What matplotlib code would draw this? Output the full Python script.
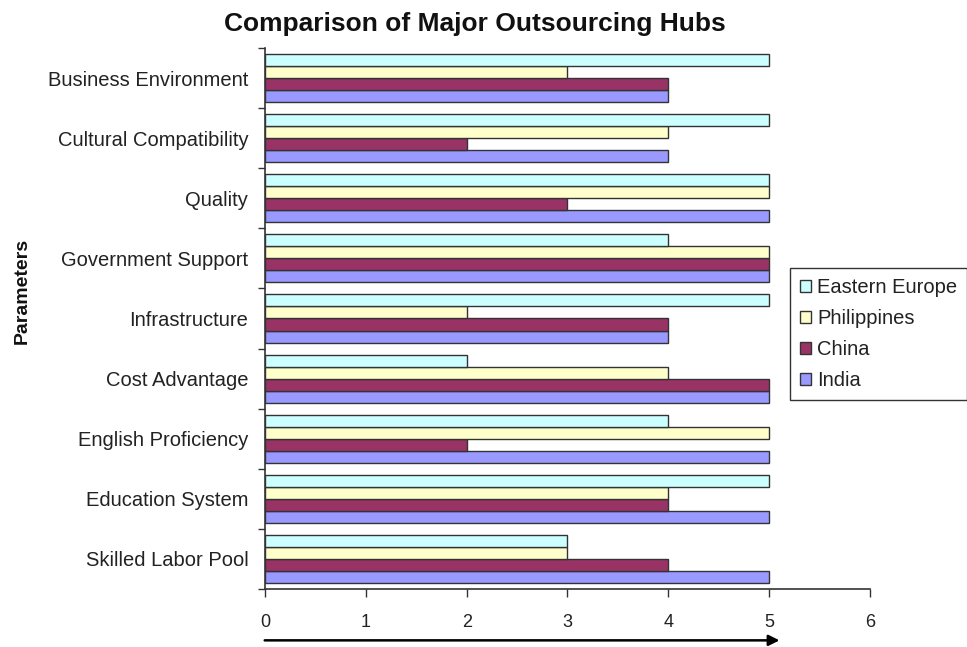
import matplotlib
matplotlib.use("Agg")
import matplotlib.pyplot as plt
import numpy as np
from matplotlib.ticker import FixedLocator

categories = ["Skilled Labor Pool", "Education System", "English Proficiency",
              "Cost Advantage", "Infrastructure", "Government Support",
              "Quality", "Cultural Compatibility", "Business Environment"]
india = [5, 5, 5, 5, 4, 5, 5, 4, 4]
china = [4, 4, 2, 5, 4, 5, 3, 2, 4]
philippines = [3, 4, 5, 4, 2, 5, 5, 4, 3]
eastern_europe = [3, 5, 4, 2, 5, 4, 5, 5, 5]
series_names = ["India", "China", "Philippines", "Eastern Europe"]
series_colors = ["#9999FF", "#993366", "#FFFFCC", "#CCFFFF"]
x_ticks = [0, 1, 2, 3, 4, 5, 6]

plt.rcParams['font.family'] = ['Liberation Sans', 'DejaVu Sans']

fig = plt.figure(figsize=(9.67, 6.47), dpi=100)
ax = fig.add_axes([0.274, 0.0897, 0.6257, 0.8361])

y = np.arange(len(categories))
h = 0.2
series = [india, china, philippines, eastern_europe]
handles = []
for i, (vals, name, col) in enumerate(zip(series, series_names, series_colors)):
    b = ax.barh(y + (i - 1.5) * h, vals, height=h, color=col, edgecolor="#333333",
                linewidth=1.0, label=name)
    handles.append(b)

ax.set_xlim(0, 6)
ax.set_ylim(-0.5, len(categories) - 0.5)
ax.set_xticks(x_ticks)
ax.set_xticklabels([str(t) for t in x_ticks], fontsize=13, color="#222222")
ax.set_yticks(y)
ax.set_yticklabels(categories, fontsize=14.5, color="#222222")
ax.yaxis.set_minor_locator(FixedLocator(np.arange(-0.5, len(categories), 1.0)))
ax.tick_params(axis='y', which='major', length=0, pad=12)
ax.tick_params(axis='y', which='minor', length=5, width=1, color="#333333")
ax.tick_params(axis='x', which='major', length=6, width=1, pad=12, color="#333333")
for s in ["top", "right"]:
    ax.spines[s].set_visible(False)
for s in ["left", "bottom"]:
    ax.spines[s].set_color("#333333")
    ax.spines[s].set_linewidth(1.2)

fig.text(22 / 967, 1 - 291 / 647, "Parameters", rotation=90, ha="center", va="center",
         fontsize=14, fontweight="bold", color="#111111")

fig.text(475 / 967, 1 - 24 / 647, "Comparison of Major Outsourcing Hubs", ha="center",
         va="center", fontsize=19, fontweight="bold", color="#111111")

# arrow under x axis
ax.annotate("", xy=(5.13, -0.095), xytext=(-0.03, -0.095),
            xycoords=ax.get_xaxis_transform(), textcoords=ax.get_xaxis_transform(),
            arrowprops=dict(arrowstyle="-|>", color="black", lw=1.8, mutation_scale=16),
            annotation_clip=False)

leg = fig.legend(handles[::-1], series_names[::-1], loc="upper left",
                 bbox_to_anchor=(790 / 967, 1 - 268 / 647), fontsize=14.5,
                 frameon=True, fancybox=False, edgecolor="black",
                 handlelength=0.55, handleheight=0.55, handletextpad=0.3,
                 labelspacing=0.6, borderpad=0.5, borderaxespad=0)
leg.get_frame().set_linewidth(1.0)
for t in leg.get_texts():
    t.set_color("#222222")

fig.savefig("out.png", dpi=100)
